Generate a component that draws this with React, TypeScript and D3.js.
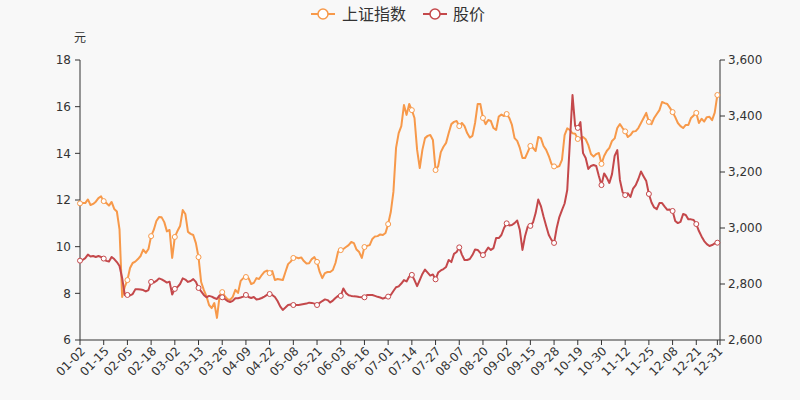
import React from "react";
import * as d3 from "d3";

const tickLabels = ["01-02","01-15","02-05","02-18","03-02","03-13","03-26","04-09","04-22","05-08","05-21","06-03","06-16","07-01","07-14","07-27","08-07","08-20","09-02","09-15","09-28","10-19","10-30","11-12","11-25","12-08","12-21","12-31"];

const indexValues = [3088,3089,3089,3102,3082,3086,3094,3107,3113,3096,
3089,3080,3093,3068,3059,2995,2754,2790,2814,2857,
2875,2880,2889,2900,2923,2911,2925,2971,2993,3025,
3039,3038,3021,2988,2993,2893,2968,2989,3007,3064,
3050,2986,2979,2975,2946,2896,2807,2779,2757,2725,
2714,2732,2679,2757,2771,2757,2746,2743,2754,2779,
2768,2811,2821,2825,2821,2800,2804,2821,2818,2832,
2843,2848,2839,2846,2814,2818,2816,2814,2843,2871,
2880,2893,2895,2892,2895,2882,2873,2874,2889,2896,
2879,2843,2821,2839,2843,2843,2850,2875,2916,2921,
2925,2932,2939,2950,2946,2923,2914,2893,2932,2936,
2939,2961,2970,2971,2977,2975,2982,3014,3057,3129,
3286,3339,3364,3439,3404,3443,3421,3393,3279,3214,
3279,3321,3329,3332,3314,3207,3221,3271,3290,3304,
3339,3371,3379,3382,3364,3375,3364,3339,3323,3329,
3375,3443,3443,3393,3371,3386,3382,3357,3350,3398,
3405,3400,3407,3393,3368,3321,3311,3286,3250,3250,
3271,3293,3286,3275,3325,3321,3293,3279,3257,3229,
3220,3218,3221,3243,3332,3356,3350,3338,3337,3318,
3321,3325,3317,3296,3264,3255,3264,3268,3229,3257,
3275,3286,3311,3320,3357,3371,3357,3345,3325,3332,
3345,3346,3357,3375,3393,3411,3379,3371,3393,3407,
3421,3450,3446,3443,3429,3414,3396,3375,3364,3357,
3368,3368,3393,3402,3411,3375,3390,3380,3396,3397,
3385,3412,3475];

const stockPrice = [9.40,9.43,9.51,9.66,9.58,9.60,9.56,9.60,9.56,9.49,
9.39,9.36,9.56,9.47,9.34,9.17,8.66,7.93,7.93,7.91,
7.97,8.17,8.17,8.16,8.14,8.08,8.14,8.49,8.46,8.53,
8.64,8.60,8.53,8.46,8.50,7.95,8.19,8.27,8.40,8.64,
8.59,8.49,8.53,8.61,8.49,8.23,8.08,7.93,7.83,7.89,
7.86,7.80,7.76,7.91,7.83,7.76,7.67,7.63,7.68,7.79,
7.79,7.82,7.86,7.93,7.84,7.80,7.84,7.74,7.76,7.80,
7.86,7.93,7.97,7.93,7.84,7.67,7.44,7.29,7.39,7.50,
7.52,7.50,7.50,7.50,7.52,7.54,7.56,7.60,7.59,7.56,
7.50,7.59,7.67,7.74,7.71,7.61,7.69,7.80,7.89,7.89,
8.21,8.01,7.92,7.89,7.87,7.86,7.84,7.83,7.83,7.93,
7.93,7.93,7.89,7.85,7.82,7.77,7.82,7.86,7.93,8.10,
8.26,8.30,8.42,8.57,8.51,8.72,8.79,8.57,8.31,8.57,
8.83,9.02,8.89,8.76,8.81,8.60,8.89,8.98,9.04,9.13,
9.43,9.34,9.69,9.77,9.97,9.66,9.43,9.43,9.47,9.64,
9.88,9.86,9.73,9.64,9.79,9.96,9.86,9.94,10.37,10.37,
10.50,10.80,11.00,10.91,10.93,11.01,11.12,10.71,9.86,10.46,
10.86,10.89,11.04,11.44,12.02,11.74,11.29,10.89,10.50,10.29,
10.16,10.80,11.27,11.57,11.85,12.43,14.49,16.50,15.17,15.09,
15.34,14.01,13.80,13.33,13.46,13.50,13.46,13.03,12.64,13.14,
12.96,12.73,13.11,13.89,14.14,12.86,12.34,12.21,12.29,12.13,
12.49,12.64,12.90,13.22,13.01,12.81,12.26,11.89,11.68,11.61,
11.87,11.87,11.72,11.58,11.59,11.53,11.10,11.01,11.06,11.40,
11.36,11.17,11.17,11.14,10.97,10.67,10.44,10.24,10.11,10.03,
10.07,10.14,10.17];

const leftTicks = [6, 8, 10, 12, 14, 16, 18];
const rightTicks = [2600, 2800, 3000, 3200, 3400, 3600];
const seriesNames = ["上证指数", "股价"];

const W = 800, H = 400;
const M = { left: 80, right: 720, top: 60, bottom: 340 };
const ORANGE = "#f7994a";
const RED = "#c4484b";
const AXIS = "#333";
const FONT = "'DejaVu Sans', 'Noto Sans CJK SC', sans-serif";

export default function App() {
  const N = indexValues.length;
  // category axis: one extra slot after the last trading day
  const x = d3.scaleLinear().domain([0, N]).range([M.left, M.right]);
  const yL = d3.scaleLinear().domain([6, 18]).range([M.bottom, M.top]);
  const yR = d3.scaleLinear().domain([2600, 3600]).range([M.bottom, M.top]);
  const fmt = d3.format(",");

  const lineR = d3.line<number>().x((_, i) => x(i)).y((d) => yR(d));
  const lineL = d3.line<number>().x((_, i) => x(i)).y((d) => yL(d));

  const labelIdx = tickLabels.map((_, k) => (k === tickLabels.length - 1 ? N - 1 : k * 9));
  const tickIdx = Array.from(new Set([...d3.range(0, N + 1, 9), N - 1]));
  const markerIdx = d3.range(N).filter((i) => i % 9 === 0 || i === N - 1);

  return (
    <svg width={W} height={H} style={{ position: "absolute", left: 0, top: 0 }} fontFamily={FONT}>
      <rect x={0} y={0} width={W} height={H} fill="#f8f8f8" />

      {/* legend */}
      <g>
        <line x1={311} x2={335} y1={14} y2={14} stroke={ORANGE} strokeWidth={2} />
        <circle cx={323} cy={14} r={5} fill="#fff" stroke={ORANGE} strokeWidth={1.5} />
        <text x={342} y={14} dy="0.35em" fontSize={16} fill={AXIS}>{seriesNames[0]}</text>
        <line x1={423} x2={447} y1={14} y2={14} stroke={RED} strokeWidth={2} />
        <circle cx={435} cy={14} r={5} fill="#fff" stroke={RED} strokeWidth={1.5} />
        <text x={453} y={14} dy="0.35em" fontSize={16} fill={AXIS}>{seriesNames[1]}</text>
      </g>

      {/* y axis name */}
      <text x={M.left} y={38} dy="0.35em" textAnchor="middle" fontSize={12} fill={AXIS}>元</text>

      {/* left axis */}
      <line x1={M.left} x2={M.left} y1={M.top} y2={M.bottom} stroke={AXIS} />
      {leftTicks.map((t) => (
        <g key={"l" + t}>
          <line x1={M.left - 5} x2={M.left} y1={yL(t)} y2={yL(t)} stroke={AXIS} />
          <text x={M.left - 9} y={yL(t)} dy="0.35em" textAnchor="end" fontSize={12} fill={AXIS}>{t}</text>
        </g>
      ))}

      {/* right axis */}
      <line x1={M.right} x2={M.right} y1={M.top} y2={M.bottom} stroke={AXIS} />
      {rightTicks.map((t) => (
        <g key={"r" + t}>
          <line x1={M.right} x2={M.right + 5} y1={yR(t)} y2={yR(t)} stroke={AXIS} />
          <text x={M.right + 8} y={yR(t)} dy="0.35em" textAnchor="start" fontSize={12} fill={AXIS}>{fmt(t)}</text>
        </g>
      ))}

      {/* x axis */}
      <line x1={M.left} x2={M.right} y1={M.bottom} y2={M.bottom} stroke={AXIS} />
      {tickIdx.map((ti) => (
        <line key={"t" + ti} x1={x(ti)} x2={x(ti)} y1={M.bottom} y2={M.bottom + 5} stroke={AXIS} />
      ))}
      {labelIdx.map((ti, k) => (
        <text
          key={"x" + k}
          transform={`translate(${x(ti) + 3},${M.bottom + 9}) rotate(-45)`}
          textAnchor="end"
          dy="0.35em"
          fontSize={12}
          fill={AXIS}
        >
          {tickLabels[k]}
        </text>
      ))}

      {/* series */}
      <path d={lineR(indexValues) || ""} fill="none" stroke={ORANGE} strokeWidth={2} strokeLinejoin="round" />
      {markerIdx.map((i) => (
        <circle key={"mo" + i} cx={x(i)} cy={yR(indexValues[i])} r={2.5} fill="#fff" stroke={ORANGE} strokeWidth={1} />
      ))}
      <path d={lineL(stockPrice) || ""} fill="none" stroke={RED} strokeWidth={2} strokeLinejoin="round" />
      {markerIdx.map((i) => (
        <circle key={"mr" + i} cx={x(i)} cy={yL(stockPrice[i])} r={2.5} fill="#fff" stroke={RED} strokeWidth={1} />
      ))}
    </svg>
  );
}
